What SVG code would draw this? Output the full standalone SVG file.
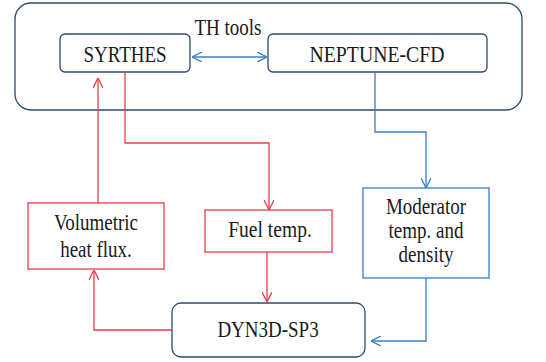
<svg xmlns="http://www.w3.org/2000/svg" width="546" height="362" viewBox="0 0 546 362">
<defs>
<style>
.box{fill:#fff;stroke:#2c4a6e;stroke-width:1.3}
.rbox{fill:#fff;stroke:#ee3b44;stroke-width:1.3}
.bbox{fill:#fff;stroke:#3a7cc8;stroke-width:1.3}
.t{font-family:'Liberation Serif','DejaVu Serif',serif;font-size:19px;fill:#1a1a1a;text-anchor:middle}
.r{fill:none;stroke:#ee3b44;stroke-width:1.3}
.b{fill:none;stroke:#3a7cc8;stroke-width:1.3}
</style>
<marker id="ar" viewBox="0 0 10 10" refX="10" refY="5" markerWidth="10" markerHeight="10" markerUnits="userSpaceOnUse" orient="auto-start-reverse"><path d="M0,0 L10,5 L0,10" fill="none" stroke="#ee3b44" stroke-width="1.3"/></marker>
<marker id="ab" viewBox="0 0 10 10" refX="10" refY="5" markerWidth="10" markerHeight="10" markerUnits="userSpaceOnUse" orient="auto-start-reverse"><path d="M0,0 L10,5 L0,10" fill="none" stroke="#3a7cc8" stroke-width="1.3"/></marker>
</defs>
<g id="th-tools">
<rect class="box" x="15" y="3" width="507" height="107" rx="16"/>
<text class="t" transform="translate(228,35) scale(1,1.17)">TH tools</text>
</g>
<g id="syrthes">
<rect class="box" x="60" y="34" width="130" height="38" rx="5"/>
<text class="t" transform="translate(125,62) scale(1,1.17)">SYRTHES</text>
</g>
<g id="neptune">
<rect class="box" x="268" y="34" width="219" height="38" rx="5"/>
<text class="t" transform="translate(377,62) scale(1.04,1.17)">NEPTUNE-CFD</text>
</g>
<g id="volumetric">
<rect class="rbox" x="28" y="203" width="136" height="66"/>
<text class="t" transform="translate(96,230) scale(1,1.17)">Volumetric</text>
<text class="t" transform="translate(96,257) scale(1,1.17)">heat flux.</text>
</g>
<g id="fuel">
<rect class="rbox" x="205" y="210" width="127" height="42"/>
<text class="t" transform="translate(270,237) scale(1.03,1.17)">Fuel temp.</text>
</g>
<g id="moderator">
<rect class="bbox" x="363" y="188" width="126" height="90"/>
<text class="t" transform="translate(426,214) scale(1,1.17)">Moderator</text>
<text class="t" transform="translate(426,238) scale(1,1.17)">temp. and</text>
<text class="t" transform="translate(426,262) scale(1,1.17)">density</text>
</g>
<g id="dyn3d">
<rect class="box" x="172" y="303" width="193" height="54" rx="9"/>
<text class="t" transform="translate(268,337) scale(1,1.17)">DYN3D-SP3</text>
</g>
<g id="connectors">
<path class="b" d="M192,57 H267" marker-start="url(#ab)" marker-end="url(#ab)"/>
<path class="r" d="M98,203 V78" marker-end="url(#ar)"/>
<path class="r" d="M125,72 V143 H269 V210" marker-end="url(#ar)"/>
<path class="b" d="M375,72 V132 H426 V188" marker-end="url(#ab)"/>
<path class="r" d="M267,252 V302" marker-end="url(#ar)"/>
<path class="r" d="M172,330 H94 V270" marker-end="url(#ar)"/>
<path class="b" d="M426,278 V341 H371" marker-end="url(#ab)"/>
</g>
</svg>
